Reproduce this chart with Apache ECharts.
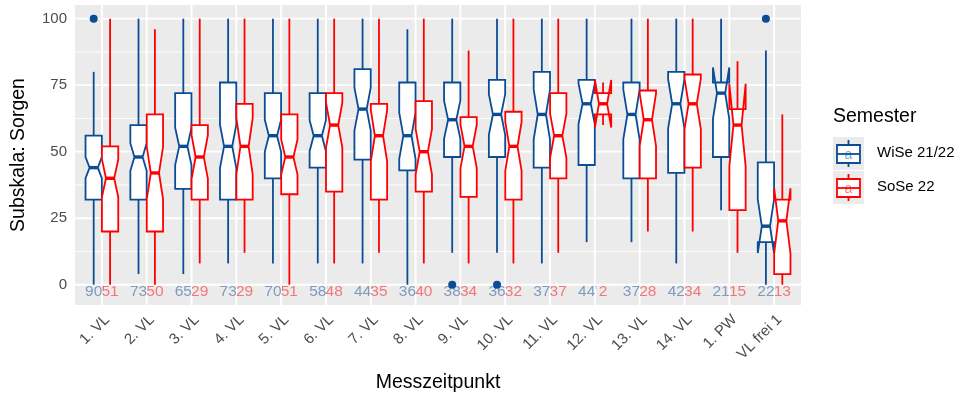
<!DOCTYPE html>
<html><head><meta charset="utf-8">
<script src="https://cdn.jsdelivr.net/npm/echarts@6/dist/echarts.min.js"></script>
<style>html,body{margin:0;padding:0;background:#fff}#c{width:963px;height:394px}</style>
</head><body><div id="c"></div>
<script>
const categories = ['1. VL','2. VL','3. VL','4. VL','5. VL','6. VL','7. VL','8. VL','9. VL','10. VL','11. VL','12. VL','13. VL','14. VL','1. PW','VL frei 1'];
// [lower whisker, Q1, median, Q3, upper whisker]
const wiseStats = [
  [0,32,44,56,80],[4,32,48,60,100],[4,36,52,72,100],[8,32,52,76,100],
  [8,40,56,72,100],[8,44,56,72,100],[8,47,66,81,100],[0,43,56,76,96],
  [12,48,62,76,100],[12,48,64,77,100],[8,44,64,80,100],[16,45,68,77,100],
  [16,40,64,76,100],[8,42,68,80,100],[28,48,72,76,100],[0,16,22,46,88]
];
const wiseN = [90,73,65,73,70,58,44,36,38,36,37,44,37,42,21,22];
const soseStats = [
  [0,20,40,52,100],[0,20,42,64,96],[8,32,48,60,100],[12,32,52,68,100],
  [0,34,48,64,100],[8,35,60,72,100],[12,32,56,68,100],[8,35,50,69,100],
  [8,33,52,63,88],[8,32,52,65,100],[12,40,56,72,100],[60,64,68,72,76],
  [20,40,62,73,100],[20,44,68,79,100],[12,28,60,66,84],[0,4,24,32,64]
];
const soseN = [51,50,29,29,51,48,35,40,34,32,37,2,28,34,15,13];
// outliers: [category index, value]
const wiseOutliers = [[0,100],[8,0],[9,0],[15,100]];
const soseOutliers = [];
const yTicks = [0,25,50,75,100];
const yMinor = [12.5,37.5,62.5,87.5];
const xTicks = categories.map((c,i)=>i);

const BLUE = '#0B4C96', RED = '#FF0000';
const BLUE_T = 'rgba(11,76,150,0.5)', RED_T = 'rgba(255,0,0,0.5)';
const OFF = 0.183, BW = 0.364;

function boxRender(side, color){
  return function(params, api){
    const ci = api.value(0), lo = api.value(1), q1 = api.value(2), md = api.value(3), q3 = api.value(4), hi = api.value(5), n = api.value(6);
    const band = api.size([1,0])[0];
    const cx = api.coord([ci,0])[0] + side*OFF*band;
    const w = BW*band, xmin = cx-w/2, xmax = cx+w/2, ind = w*0.25;
    const Y = v => api.coord([ci,v])[1];
    const nh = 1.58*(q3-q1)/Math.sqrt(n);
    const nu = md+nh, nl = md-nh;
    const pts = [[xmin,Y(q3)],[xmin,Y(nu)],[xmin+ind,Y(md)],[xmin,Y(nl)],[xmin,Y(q1)],
                 [xmax,Y(q1)],[xmax,Y(nl)],[xmax-ind,Y(md)],[xmax,Y(nu)],[xmax,Y(q3)]];
    return {type:'group', children:[
      {type:'line', shape:{x1:cx,y1:Y(q3),x2:cx,y2:Y(hi)}, style:{stroke:color,lineWidth:1.8}},
      {type:'line', shape:{x1:cx,y1:Y(q1),x2:cx,y2:Y(lo)}, style:{stroke:color,lineWidth:1.8}},
      {type:'polygon', shape:{points:pts}, style:{fill:'#ffffff',stroke:color,lineWidth:1.8,lineJoin:'miter'}},
      {type:'line', shape:{x1:xmin+ind,y1:Y(md),x2:xmax-ind,y2:Y(md)}, style:{stroke:color,lineWidth:3.4}}
    ]};
  };
}
function labelRender(side, color){
  return function(params, api){
    const ci = api.value(0), n = api.value(1);
    const band = api.size([1,0])[0];
    const p = api.coord([ci,-2.5]);
    return {type:'text', style:{text:String(n), x:p[0]+side*OFF*band, y:p[1], fill:color,
      font:'15.5px "Liberation Sans", Arial, sans-serif', align:'center', verticalAlign:'middle'}};
  };
}
function outRender(side, color){
  return function(params, api){
    const ci = api.value(0);
    const band = api.size([1,0])[0];
    const p = api.coord([ci, api.value(1)]);
    return {type:'circle', shape:{cx:p[0]+side*OFF*band, cy:p[1], r:4}, style:{fill:color}};
  };
}
// background grid lines: [orientation (0 = horizontal, 1 = vertical), value, major flag]
function gridRender(params, api){
  const cs = params.coordSys;
  const dir = api.value(0), v = api.value(1), major = api.value(2);
  const lw = major ? 1.9 : 0.9;
  if (dir === 0) {
    const y = api.coord([0, v])[1];
    return {type:'line', shape:{x1:cs.x, y1:y, x2:cs.x+cs.width, y2:y}, style:{stroke:'#fff', lineWidth:lw}};
  }
  const x = api.coord([v, 0])[0];
  return {type:'line', shape:{x1:x, y1:cs.y, x2:x, y2:cs.y+cs.height}, style:{stroke:'#fff', lineWidth:lw}};
}

const wiseData = wiseStats.map((s,i)=>[i].concat(s).concat([wiseN[i]]));
const soseData = soseStats.map((s,i)=>[i].concat(s).concat([soseN[i]]));
const gridData = [];
yMinor.forEach(v=>gridData.push([0,v,0]));
yTicks.forEach(v=>gridData.push([0,v,1]));
xTicks.forEach(v=>gridData.push([1,v,1]));
const FONT = '"Liberation Sans", Arial, sans-serif';

const chart = echarts.init(document.getElementById('c'), null, {renderer:'canvas'});
chart.setOption({
  animation:false,
  grid:{left:75, right:162, top:5, bottom:89, show:true, backgroundColor:'#EBEBEB', borderWidth:0,
        outerBoundsMode:'none', containLabel:false},
  xAxis:{type:'value', min:-0.6, max:15.6,
    name:'Messzeitpunkt', nameLocation:'middle', nameGap:68,
    nameTextStyle:{fontFamily:FONT, fontSize:19.5, color:'#000'},
    axisLine:{show:false}, splitLine:{show:false},
    axisTick:{show:true, length:4, customValues:xTicks, lineStyle:{color:'#333',width:1.2}},
    axisLabel:{customValues:xTicks, formatter:v=>categories[Math.round(v)],
      rotate:45, align:'right', verticalAlign:'top', margin:7,
      fontFamily:FONT, fontSize:15, color:'#4D4D4D'}},
  yAxis:{type:'value', min:-7.625, max:105.125,
    name:'Subskala: Sorgen', nameLocation:'middle', nameGap:46, nameRotate:90,
    nameTextStyle:{fontFamily:FONT, fontSize:19.5, color:'#000'},
    axisLine:{show:false}, splitLine:{show:false},
    axisTick:{show:true, length:4, customValues:yTicks, lineStyle:{color:'#333',width:1.2}},
    axisLabel:{customValues:yTicks, margin:8, fontFamily:FONT, fontSize:15, color:'#4D4D4D'}},
  series:[
    {type:'custom', z:1, silent:true, renderItem:gridRender, data:gridData, encode:{x:1,y:1}},
    {type:'custom', z:2, renderItem:boxRender(-1, BLUE), data:wiseData, encode:{x:0,y:3}},
    {type:'custom', z:2, renderItem:boxRender(1, RED), data:soseData, encode:{x:0,y:3}},
    {type:'custom', z:3, renderItem:labelRender(-1, BLUE_T), data:wiseN.map((n,i)=>[i,n]), encode:{x:0,y:1}},
    {type:'custom', z:3, renderItem:labelRender(1, RED_T), data:soseN.map((n,i)=>[i,n]), encode:{x:0,y:1}},
    {type:'custom', z:4, renderItem:outRender(-1, BLUE), data:wiseOutliers, encode:{x:0,y:1}},
    {type:'custom', z:4, renderItem:outRender(1, RED), data:soseOutliers, encode:{x:0,y:1}}
  ],
  graphic:[
    {type:'text', left:833, top:107, style:{text:'Semester', font:'19.5px '+FONT, fill:'#000'}},
    {type:'rect', shape:{x:833,y:137,width:31,height:33}, style:{fill:'#EBEBEB'}},
    {type:'rect', shape:{x:833,y:171,width:31,height:33}, style:{fill:'#EBEBEB'}},
    {type:'line', shape:{x1:848.5,y1:140,x2:848.5,y2:167}, style:{stroke:BLUE,lineWidth:1.8}},
    {type:'rect', shape:{x:837,y:145,width:23,height:18}, style:{fill:'#fff',stroke:BLUE,lineWidth:1.8}},
    {type:'line', shape:{x1:837,y1:154,x2:860,y2:154}, style:{stroke:BLUE,lineWidth:1.8}},
    {type:'text', x:848.5, y:155, style:{text:'a', font:'14px '+FONT, fill:BLUE_T, align:'center', verticalAlign:'middle'}},
    {type:'line', shape:{x1:848.5,y1:174,x2:848.5,y2:201}, style:{stroke:RED,lineWidth:1.8}},
    {type:'rect', shape:{x:837,y:179,width:23,height:18}, style:{fill:'#fff',stroke:RED,lineWidth:1.8}},
    {type:'line', shape:{x1:837,y1:188,x2:860,y2:188}, style:{stroke:RED,lineWidth:1.8}},
    {type:'text', x:848.5, y:189, style:{text:'a', font:'14px '+FONT, fill:RED_T, align:'center', verticalAlign:'middle'}},
    {type:'text', left:877, top:145, style:{text:'WiSe 21/22', font:'15px '+FONT, fill:'#000'}},
    {type:'text', left:877, top:179, style:{text:'SoSe 22', font:'15px '+FONT, fill:'#000'}}
  ]
});
</script></body></html>
